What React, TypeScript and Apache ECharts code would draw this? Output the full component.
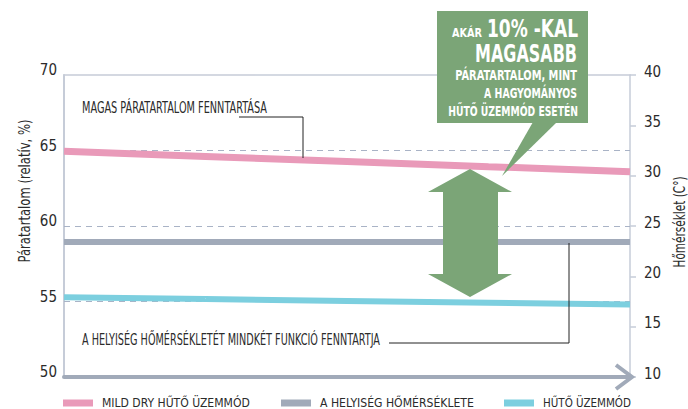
import React, { useEffect, useRef } from "react";
import * as echarts from "echarts";

const categories = ["t0", "t1", "t2", "t3", "t4"];
const mildDryHumidity = [64.95, 64.61, 64.27, 63.93, 63.6];
const roomTemperature = [23.4, 23.4, 23.4, 23.4, 23.4];
const coolingHumidity = [55.28, 55.16, 55.04, 54.92, 54.8];
const humidityAxis = { min: 50, max: 70, interval: 5 };
const temperatureAxis = { min: 10, max: 40, interval: 5 };
const referenceLevels = [65, 60, 55];
const seriesNames = ["MILD DRY HŰTŐ ÜZEMMÓD", "A HELYISÉG HŐMÉRSÉKLETE", "HŰTŐ ÜZEMMÓD"];

const FONT = "'Liberation Sans Narrow','DejaVu Sans Condensed','Roboto Condensed','Noto Sans',sans-serif";
const PINK = "#e99ab9";
const GREY = "#a1aab9";
const CYAN = "#7ccfdf";
const GREEN = "#7ba577";
const AXIS_LIGHT = "#c6ccd8";
const TEXT = "#2b2b2b";

let ctx: CanvasRenderingContext2D | null = null;
function measure(text: string, font: string): number {
  if (!ctx) ctx = document.createElement("canvas").getContext("2d");
  if (!ctx) return text.length * 7;
  ctx.font = font;
  return ctx.measureText(text).width;
}
function fit(text: string, font: string, target: number): number {
  const w = measure(text, font);
  return w > 0 ? target / w : 1;
}

function fittedText(text: string, size: number, bold: boolean, x: number, y: number, width: number, align: string, color: string, rotation = 0, z = 61) {
  const font = `${bold ? "bold " : ""}${size}px ${FONT}`;
  return {
    type: "text",
    z,
    x,
    y,
    rotation,
    scaleX: fit(text, font, width),
    style: { text, font, fill: color, align, verticalAlign: "middle" },
  };
}

export default function App() {
  const ref = useRef<HTMLDivElement>(null);
  useEffect(() => {
    if (!ref.current) return;
    const chart = echarts.init(ref.current, null, { renderer: "svg" });

    const legendLefts = [63, 281, 504];
    const legendWidths = [148, 154, 88];
    const legends = seriesNames.map((name, i) => {
      const fs = Math.min(15, (15 * legendWidths[i]) / measure(name, `15px ${FONT}`));
      return {
        left: legendLefts[i],
        top: 395,
        padding: 0,
        itemWidth: 30,
        itemHeight: 7,
        icon: "rect",
        selectedMode: false,
        data: [name],
        textStyle: { fontFamily: FONT, fontSize: fs, color: TEXT, lineHeight: 16, padding: [0, 0, 0, 4] },
      };
    });

    chart.setOption({
      animation: false,
      textStyle: { fontFamily: FONT },
      grid: { left: 64, right: 58, top: 75, bottom: 32 },
      legend: legends,
      xAxis: [
        {
          type: "category",
          data: categories,
          boundaryGap: false,
          axisLine: { show: true, lineStyle: { color: GREY, width: 4 } },
          axisTick: { show: false },
          axisLabel: { show: false },
          splitLine: { show: false },
          z: 4,
        },
        {
          type: "category",
          position: "top",
          data: categories,
          boundaryGap: false,
          axisLine: { show: true, onZero: false, lineStyle: { color: AXIS_LIGHT, width: 1.5 } },
          axisTick: { show: false },
          axisLabel: { show: false },
          splitLine: { show: false },
        },
      ],
      yAxis: [
        {
          type: "value",
          position: "left",
          min: humidityAxis.min,
          max: humidityAxis.max,
          interval: humidityAxis.interval,
          axisLine: { show: true, lineStyle: { color: AXIS_LIGHT, width: 2 } },
          axisTick: { show: false },
          axisLabel: { color: TEXT, fontSize: 15, fontFamily: FONT, margin: 7, verticalAlign: "bottom", lineHeight: 10 },
          splitLine: { show: false },
        },
        {
          type: "value",
          position: "right",
          min: temperatureAxis.min,
          max: temperatureAxis.max,
          interval: temperatureAxis.interval,
          axisLine: { show: true, lineStyle: { color: AXIS_LIGHT, width: 1.5 } },
          axisTick: { show: true, inside: false, length: 6, lineStyle: { color: AXIS_LIGHT, width: 1.5 } },
          axisLabel: { color: TEXT, fontSize: 15, fontFamily: FONT, margin: 14, verticalAlign: "bottom", lineHeight: 7 },
          splitLine: { show: false },
        },
      ],
      series: [
        {
          name: seriesNames[0],
          type: "line",
          yAxisIndex: 0,
          data: mildDryHumidity,
          symbol: "none",
          color: PINK,
          lineStyle: { color: PINK, width: 7 },
          z: 3,
          markLine: {
            silent: true,
            z: 1,
            symbol: ["none", "none"],
            label: { show: false },
            lineStyle: { color: "#a9b3c6", type: [6, 5], width: 1 },
            data: referenceLevels.map((v) => ({ yAxis: v })),
          },
        },
        {
          name: seriesNames[1],
          type: "line",
          yAxisIndex: 1,
          data: roomTemperature,
          symbol: "none",
          color: GREY,
          lineStyle: { color: GREY, width: 6 },
          z: 3,
        },
        {
          name: seriesNames[2],
          type: "line",
          yAxisIndex: 0,
          data: coolingHumidity,
          symbol: "none",
          color: CYAN,
          lineStyle: { color: CYAN, width: 6 },
          z: 3,
        },
      ],
      graphic: [
        {
          type: "polyline",
          z: 50,
          shape: { points: [[616, 365], [632, 377], [616, 389]] },
          style: { stroke: GREY, lineWidth: 4, fill: null },
        },
        fittedText("Páratartalom (relatív, %)", 15, false, 25, 191, 143, "center", TEXT, Math.PI / 2),
        fittedText("Hőmérséklet (C°)", 15, false, 680, 222, 91, "center", TEXT, Math.PI / 2),
        fittedText("MAGAS PÁRATARTALOM FENNTARTÁSA", 15, false, 82, 108, 185, "left", TEXT),
        {
          type: "polyline",
          z: 50,
          shape: { points: [[239, 117], [303, 117], [303, 158]] },
          style: { stroke: "#222", lineWidth: 1, fill: null },
        },
        fittedText("A HELYISÉG HŐMÉRSÉKLETÉT MINDKÉT FUNKCIÓ FENNTARTJA", 15, false, 82, 340, 298, "left", TEXT),
        {
          type: "polyline",
          z: 50,
          shape: { points: [[389, 343], [569, 343], [569, 243]] },
          style: { stroke: "#222", lineWidth: 1, fill: null },
        },
        {
          type: "polygon",
          z: 60,
          shape: {
            points: [
              [470, 169], [512, 192], [498, 192], [498, 274], [512, 274],
              [470, 297], [428, 274], [443, 274], [443, 192], [428, 192],
            ],
          },
          style: { fill: GREEN },
        },
        {
          type: "rect",
          z: 60,
          shape: { x: 437, y: 11, width: 151, height: 112 },
          style: { fill: GREEN },
        },
        {
          type: "polygon",
          z: 60,
          shape: { points: [[533, 122], [557, 122], [502, 176]] },
          style: { fill: GREEN },
        },
        fittedText("AKÁR", 13, true, 482, 33, 30, "right", "#fff"),
        fittedText("10% -KAL", 24, true, 578, 29, 91, "right", "#fff"),
        fittedText("MAGASABB", 24, true, 577, 53, 102, "right", "#fff"),
        fittedText("PÁRATARTALOM, MINT", 14, true, 577, 75, 122, "right", "#fff"),
        fittedText("A HAGYOMÁNYOS", 14, true, 577, 93, 93, "right", "#fff"),
        fittedText("HŰTŐ ÜZEMMÓD ESETÉN", 14, true, 578, 111, 130, "right", "#fff"),
      ],
    });
    return () => chart.dispose();
  }, []);
  return <div ref={ref} style={{ width: 688, height: 409, position: "absolute", left: 0, top: 0 }} />;
}
